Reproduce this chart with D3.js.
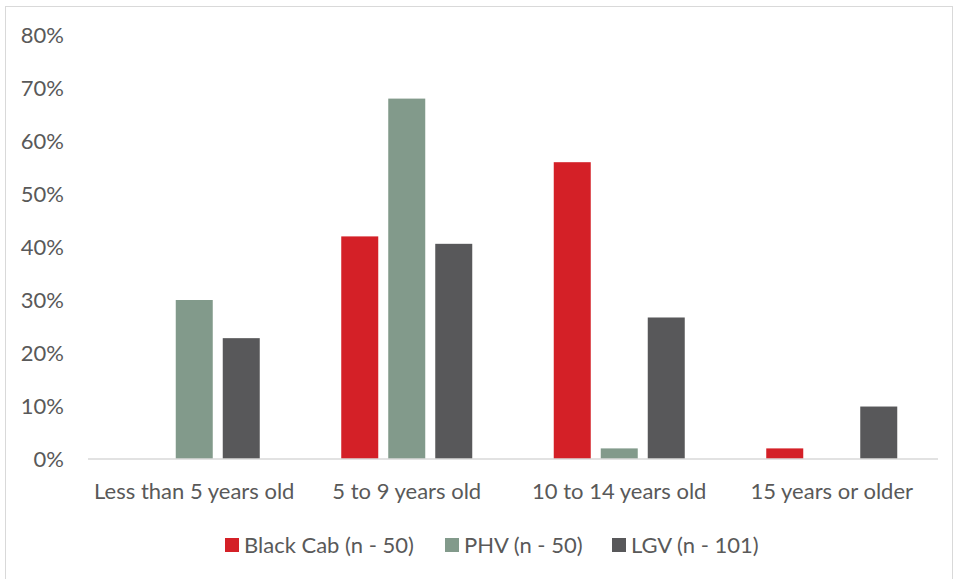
<!DOCTYPE html>
<html>
<head>
<meta charset="utf-8">
<script src="https://cdn.jsdelivr.net/npm/d3@7"></script>
<style>
  body { margin: 0; background: #fff; }
  svg { display: block; font-family: Lato, "Open Sans", sans-serif; }
</style>
</head>
<body>
<svg id="chart" width="953" height="579"></svg>
<script>
// Vehicle age distribution by vehicle type
const categories = ["Less than 5 years old", "5 to 9 years old", "10 to 14 years old", "15 years or older"];
const seriesNames = ["Black Cab (n - 50)", "PHV (n - 50)", "LGV (n - 101)"];
const blackCab = [0, 42, 56, 2];
const phv = [30, 68, 2, 0];
const lgv = [22.8, 40.6, 26.7, 9.9];
const yTicks = [0, 10, 20, 30, 40, 50, 60, 70, 80];
const colors = ["#d42027", "#829a8b", "#58585a"];

const seriesValues = [blackCab, phv, lgv];
const fontSize = 22;

const svg = d3.select("#chart");
const margin = { top: 35, right: 15, bottom: 120, left: 88 };
const width = 953, height = 579;

// outer frame
svg.append("rect")
  .attr("x", 5.5).attr("y", 6.5)
  .attr("width", width - 6).attr("height", height - 6)
  .attr("fill", "none")
  .attr("stroke", "#d9d9d9");

const x0 = d3.scaleBand()
  .domain(categories)
  .range([margin.left, width - margin.right]);

const x1 = d3.scaleBand()
  .domain(d3.range(seriesNames.length))
  .range([0, 131])
  .paddingInner(10 / 47);

const y = d3.scaleLinear()
  .domain([0, 80])
  .range([459, margin.top]);

// y axis labels
svg.append("g")
  .selectAll("text")
  .data(yTicks)
  .join("text")
  .attr("x", 64)
  .attr("y", d => y(d))
  .attr("dy", "0.35em")
  .attr("text-anchor", "end")
  .attr("font-size", fontSize)
  .attr("fill", "#595959")
  .text(d => d + "%");

// bars
const groups = svg.append("g")
  .selectAll("g")
  .data(categories)
  .join("g")
  .attr("transform", c => `translate(${x0(c) + x0.bandwidth() / 2 - 65.5},0)`);

groups.selectAll("rect")
  .data((c, i) => seriesValues.map((vals, s) => ({ s, v: vals[i] })))
  .join("rect")
  .filter(d => d.v > 0)
  .attr("x", d => x1(d.s))
  .attr("width", x1.bandwidth())
  .attr("y", d => y(d.v))
  .attr("height", d => y(0) - y(d.v))
  .attr("fill", d => colors[d.s]);

// baseline
svg.append("line")
  .attr("x1", margin.left).attr("x2", width - margin.right)
  .attr("y1", y(0)).attr("y2", y(0))
  .attr("stroke", "#d9d9d9")
  .attr("stroke-width", 1.5);

// x labels
svg.append("g")
  .selectAll("text")
  .data(categories)
  .join("text")
  .attr("x", c => x0(c) + x0.bandwidth() / 2)
  .attr("y", 491)
  .attr("dy", "0.35em")
  .attr("text-anchor", "middle")
  .attr("font-size", fontSize)
  .attr("fill", "#595959")
  .text(c => c);

// legend
const legendX = [225, 445, 612];
const legend = svg.append("g")
  .selectAll("g")
  .data(seriesNames)
  .join("g")
  .attr("transform", (d, i) => `translate(${legendX[i]},538)`);

legend.append("rect")
  .attr("width", 14).attr("height", 14)
  .attr("fill", (d, i) => colors[i]);

legend.append("text")
  .attr("x", 19)
  .attr("y", 7)
  .attr("dy", "0.35em")
  .attr("font-size", fontSize)
  .attr("fill", "#595959")
  .text(d => d);
</script>
</body>
</html>
